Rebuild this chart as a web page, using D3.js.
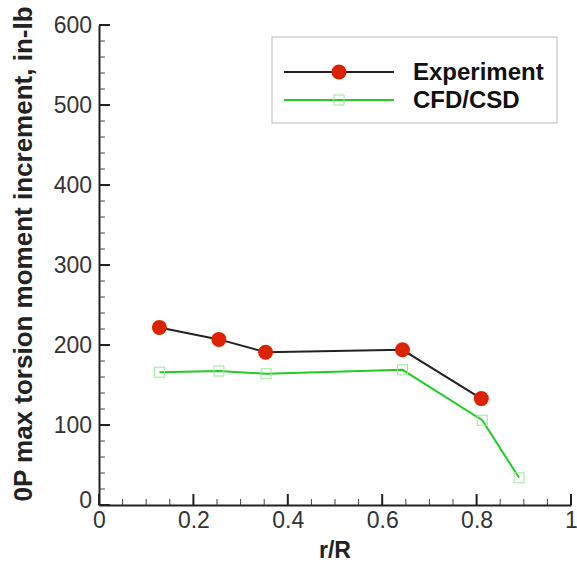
<!DOCTYPE html>
<meta charset="utf-8">
<html>
  <head>
    <style>
      body { margin: 0; background: white; }
      text { font-family: "Liberation Sans", Arial, sans-serif; }
    </style>
    <script src="https://d3js.org/d3.v7.min.js"></script>
  </head>
  <body>
<div id="my_dataviz"></div>
<script>

// data
var expR   = [0.128, 0.254, 0.353, 0.643, 0.810];
var expVal = [222, 207, 191, 194, 133];
var cfdR   = [0.128, 0.254, 0.354, 0.643, 0.812, 0.890];
var cfdVal = [166, 167.5, 164, 169, 106, 34];
var xTicks = [0, 0.2, 0.4, 0.6, 0.8, 1];
var yTicks = [0, 100, 200, 300, 400, 500, 600];

var W = 577, H = 569;
var margin = {left: 99, top: 25};
var width = 472, height = 480;

var svg = d3.select("#my_dataviz")
  .append("svg")
  .attr("width", W)
  .attr("height", H)
  .append("g")
  .attr("transform", "translate(" + margin.left + "," + margin.top + ")");

var x = d3.scaleLinear().domain([0, 1]).range([0, width]);
var y = d3.scaleLinear().domain([0, 600]).range([height, 0]);

// x axis
var xAxis = svg.append("g")
  .attr("transform", "translate(0," + height + ")")
  .call(d3.axisBottom(x).tickValues(xTicks).tickSize(0).tickPadding(7)
    .tickFormat(d => d3.format("")(d)));
xAxis.select(".domain").attr("stroke", "#222").attr("stroke-width", 2);
xAxis.selectAll("text").style("font-size", "23px").attr("fill", "#333");

// y axis
var yAxis = svg.append("g")
  .call(d3.axisLeft(y).tickValues(yTicks).tickSize(0).tickPadding(7));
yAxis.select(".domain").attr("stroke", "#222").attr("stroke-width", 2);
yAxis.selectAll("text").style("font-size", "23px").attr("fill", "#333");
yAxis.selectAll(".tick").filter(d => d === 0).select("text").attr("dy", "0.1em");

// ticks drawn inside the frame: minor every 0.05 / 20, major on the labels
var xMinor = d3.range(0, 21).map(i => i * 0.05);
var yMinor = d3.range(0, 31).map(i => i * 20);
svg.selectAll("line.xminor")
  .data(xMinor)
  .join("line")
  .attr("class", "xminor")
  .attr("x1", d => x(d)).attr("x2", d => x(d))
  .attr("y1", y(0)).attr("y2", y(0) - 6)
  .style("stroke", "#444").style("stroke-width", "1px");
svg.selectAll("line.yminor")
  .data(yMinor)
  .join("line")
  .attr("class", "yminor")
  .attr("x1", x(0)).attr("x2", x(0) + 6)
  .attr("y1", d => y(d)).attr("y2", d => y(d))
  .style("stroke", "#444").style("stroke-width", "1px");
svg.selectAll("line.xmajor")
  .data(xTicks)
  .join("line")
  .attr("class", "xmajor")
  .attr("x1", d => x(d)).attr("x2", d => x(d))
  .attr("y1", y(0)).attr("y2", y(0) - 11)
  .style("stroke", "#222").style("stroke-width", "2px");
svg.selectAll("line.ymajor")
  .data(yTicks)
  .join("line")
  .attr("class", "ymajor")
  .attr("x1", x(0)).attr("x2", x(0) + 11)
  .attr("y1", d => y(d)).attr("y2", d => y(d))
  .style("stroke", "#222").style("stroke-width", "2px");

// axis titles
svg.append("text")
  .attr("x", width / 2)
  .attr("y", 533)
  .attr("text-anchor", "middle")
  .style("font-size", "23px")
  .style("font-weight", "bold")
  .attr("fill", "#222")
  .text("r/R");

svg.append("text")
  .attr("transform", "translate(-67," + 229 + ") rotate(-90)")
  .attr("text-anchor", "middle")
  .style("font-size", "26px")
  .style("font-weight", "bold")
  .attr("fill", "#222")
  .text("0P max torsion moment increment, in-lb");

var line = d3.line().x(d => x(d[0])).y(d => y(d[1]));
var expData = expR.map((r, i) => [r, expVal[i]]);
var cfdData = cfdR.map((r, i) => [r, cfdVal[i]]);

// CFD/CSD
svg.append("path")
  .datum(cfdData)
  .attr("d", line)
  .attr("fill", "none")
  .attr("stroke", "#22cc22")
  .attr("stroke-width", 2);
svg.selectAll("rect.cfd")
  .data(cfdData)
  .join("rect")
  .attr("class", "cfd")
  .attr("x", d => x(d[0]) - 5)
  .attr("y", d => y(d[1]) - 5)
  .attr("width", 10).attr("height", 10)
  .attr("fill", "none")
  .attr("stroke", "#99e699")
  .attr("stroke-width", 1);

// Experiment
svg.append("path")
  .datum(expData)
  .attr("d", line)
  .attr("fill", "none")
  .attr("stroke", "#222")
  .attr("stroke-width", 2);
svg.selectAll("circle.exp")
  .data(expData)
  .join("circle")
  .attr("class", "exp")
  .attr("cx", d => x(d[0]))
  .attr("cy", d => y(d[1]))
  .attr("r", 7.5)
  .attr("fill", "#dd2200");

// legend
var lg = svg.append("g").attr("transform", "translate(" + (272 - margin.left) + "," + (37 - margin.top) + ")");
lg.append("rect")
  .attr("width", 285).attr("height", 86)
  .attr("fill", "white").attr("stroke", "#bbb").attr("stroke-width", 1);
lg.append("line").attr("x1", 12).attr("x2", 122).attr("y1", 35).attr("y2", 35)
  .attr("stroke", "#222").attr("stroke-width", 2);
lg.append("circle").attr("cx", 67).attr("cy", 35).attr("r", 7.5).attr("fill", "#dd2200");
lg.append("line").attr("x1", 12).attr("x2", 122).attr("y1", 63).attr("y2", 63)
  .attr("stroke", "#22cc22").attr("stroke-width", 2);
lg.append("rect").attr("x", 62).attr("y", 58).attr("width", 10).attr("height", 10)
  .attr("fill", "none").attr("stroke", "#99e699");
lg.append("text").attr("x", 141).attr("y", 43)
  .style("font-size", "24px").style("font-weight", "bold").attr("fill", "#111")
  .text("Experiment");
lg.append("text").attr("x", 141).attr("y", 71)
  .style("font-size", "24px").style("font-weight", "bold").attr("fill", "#111")
  .text("CFD/CSD");

</script>
</body>
</html>
